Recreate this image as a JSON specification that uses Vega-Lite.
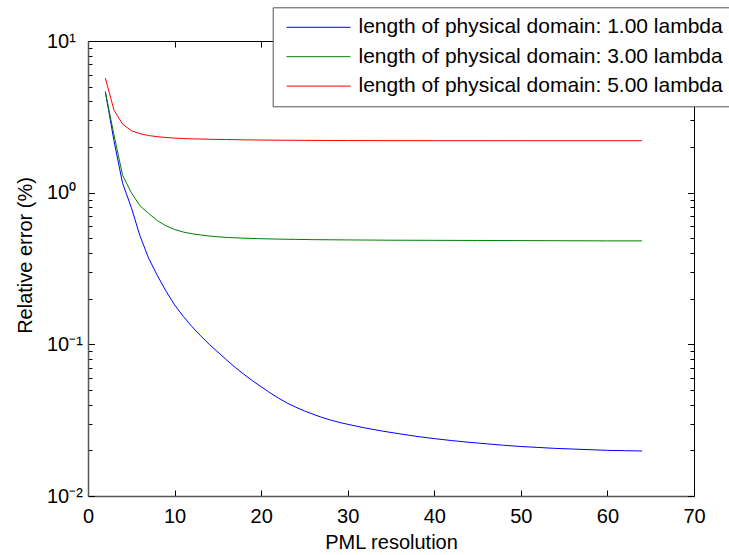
{
  "$schema": "https://vega.github.io/schema/vega-lite/v6.json",
  "width": 606,
  "height": 455,
  "autosize": {"type": "none"},
  "padding": {"left": 88, "top": 41, "right": 35, "bottom": 59},
  "background": "white",
  "config": {
    "view": {"stroke": null},
    "font": "Liberation Sans",
    "axis": {"grid": false, "labelFont": "Liberation Sans", "titleFont": "Liberation Sans", "labelColor": "black", "titleColor": "black", "titleFontWeight": "normal", "tickColor": "black", "tickWidth": 1}
  },
  "data": {
    "values": [
      {"x": 2, "err": 4.63, "series": "length of physical domain: 1.00 lambda"},
      {"x": 3, "err": 2.2, "series": "length of physical domain: 1.00 lambda"},
      {"x": 4, "err": 1.15, "series": "length of physical domain: 1.00 lambda"},
      {"x": 5, "err": 0.8, "series": "length of physical domain: 1.00 lambda"},
      {"x": 6, "err": 0.52, "series": "length of physical domain: 1.00 lambda"},
      {"x": 7, "err": 0.37, "series": "length of physical domain: 1.00 lambda"},
      {"x": 8, "err": 0.285, "series": "length of physical domain: 1.00 lambda"},
      {"x": 9, "err": 0.225, "series": "length of physical domain: 1.00 lambda"},
      {"x": 10, "err": 0.182, "series": "length of physical domain: 1.00 lambda"},
      {"x": 11, "err": 0.153, "series": "length of physical domain: 1.00 lambda"},
      {"x": 12, "err": 0.131, "series": "length of physical domain: 1.00 lambda"},
      {"x": 13, "err": 0.114, "series": "length of physical domain: 1.00 lambda"},
      {"x": 14, "err": 0.1, "series": "length of physical domain: 1.00 lambda"},
      {"x": 15, "err": 0.089, "series": "length of physical domain: 1.00 lambda"},
      {"x": 16, "err": 0.079, "series": "length of physical domain: 1.00 lambda"},
      {"x": 17, "err": 0.0705, "series": "length of physical domain: 1.00 lambda"},
      {"x": 18, "err": 0.0635, "series": "length of physical domain: 1.00 lambda"},
      {"x": 19, "err": 0.0575, "series": "length of physical domain: 1.00 lambda"},
      {"x": 20, "err": 0.0525, "series": "length of physical domain: 1.00 lambda"},
      {"x": 21, "err": 0.048, "series": "length of physical domain: 1.00 lambda"},
      {"x": 22, "err": 0.0442, "series": "length of physical domain: 1.00 lambda"},
      {"x": 23, "err": 0.041, "series": "length of physical domain: 1.00 lambda"},
      {"x": 24, "err": 0.0385, "series": "length of physical domain: 1.00 lambda"},
      {"x": 25, "err": 0.0364, "series": "length of physical domain: 1.00 lambda"},
      {"x": 26, "err": 0.0346, "series": "length of physical domain: 1.00 lambda"},
      {"x": 27, "err": 0.033, "series": "length of physical domain: 1.00 lambda"},
      {"x": 28, "err": 0.0317, "series": "length of physical domain: 1.00 lambda"},
      {"x": 29, "err": 0.0306, "series": "length of physical domain: 1.00 lambda"},
      {"x": 30, "err": 0.0297, "series": "length of physical domain: 1.00 lambda"},
      {"x": 32, "err": 0.0281, "series": "length of physical domain: 1.00 lambda"},
      {"x": 34, "err": 0.0268, "series": "length of physical domain: 1.00 lambda"},
      {"x": 36, "err": 0.0257, "series": "length of physical domain: 1.00 lambda"},
      {"x": 38, "err": 0.0247, "series": "length of physical domain: 1.00 lambda"},
      {"x": 40, "err": 0.0239, "series": "length of physical domain: 1.00 lambda"},
      {"x": 42, "err": 0.0232, "series": "length of physical domain: 1.00 lambda"},
      {"x": 44, "err": 0.0226, "series": "length of physical domain: 1.00 lambda"},
      {"x": 46, "err": 0.0221, "series": "length of physical domain: 1.00 lambda"},
      {"x": 48, "err": 0.0216, "series": "length of physical domain: 1.00 lambda"},
      {"x": 50, "err": 0.0212, "series": "length of physical domain: 1.00 lambda"},
      {"x": 52, "err": 0.0209, "series": "length of physical domain: 1.00 lambda"},
      {"x": 54, "err": 0.0206, "series": "length of physical domain: 1.00 lambda"},
      {"x": 56, "err": 0.0204, "series": "length of physical domain: 1.00 lambda"},
      {"x": 58, "err": 0.0202, "series": "length of physical domain: 1.00 lambda"},
      {"x": 60, "err": 0.02, "series": "length of physical domain: 1.00 lambda"},
      {"x": 62, "err": 0.0199, "series": "length of physical domain: 1.00 lambda"},
      {"x": 64, "err": 0.0198, "series": "length of physical domain: 1.00 lambda"},
      {"x": 2, "err": 4.63, "series": "length of physical domain: 3.00 lambda"},
      {"x": 3, "err": 2.4, "series": "length of physical domain: 3.00 lambda"},
      {"x": 4, "err": 1.3, "series": "length of physical domain: 3.00 lambda"},
      {"x": 5, "err": 1.0, "series": "length of physical domain: 3.00 lambda"},
      {"x": 6, "err": 0.82, "series": "length of physical domain: 3.00 lambda"},
      {"x": 7, "err": 0.73, "series": "length of physical domain: 3.00 lambda"},
      {"x": 8, "err": 0.655, "series": "length of physical domain: 3.00 lambda"},
      {"x": 9, "err": 0.605, "series": "length of physical domain: 3.00 lambda"},
      {"x": 10, "err": 0.572, "series": "length of physical domain: 3.00 lambda"},
      {"x": 11, "err": 0.55, "series": "length of physical domain: 3.00 lambda"},
      {"x": 12, "err": 0.536, "series": "length of physical domain: 3.00 lambda"},
      {"x": 13, "err": 0.526, "series": "length of physical domain: 3.00 lambda"},
      {"x": 14, "err": 0.518, "series": "length of physical domain: 3.00 lambda"},
      {"x": 15, "err": 0.512, "series": "length of physical domain: 3.00 lambda"},
      {"x": 16, "err": 0.507, "series": "length of physical domain: 3.00 lambda"},
      {"x": 18, "err": 0.501, "series": "length of physical domain: 3.00 lambda"},
      {"x": 20, "err": 0.497, "series": "length of physical domain: 3.00 lambda"},
      {"x": 22, "err": 0.494, "series": "length of physical domain: 3.00 lambda"},
      {"x": 24, "err": 0.492, "series": "length of physical domain: 3.00 lambda"},
      {"x": 26, "err": 0.49, "series": "length of physical domain: 3.00 lambda"},
      {"x": 28, "err": 0.489, "series": "length of physical domain: 3.00 lambda"},
      {"x": 30, "err": 0.488, "series": "length of physical domain: 3.00 lambda"},
      {"x": 35, "err": 0.486, "series": "length of physical domain: 3.00 lambda"},
      {"x": 40, "err": 0.485, "series": "length of physical domain: 3.00 lambda"},
      {"x": 45, "err": 0.484, "series": "length of physical domain: 3.00 lambda"},
      {"x": 50, "err": 0.483, "series": "length of physical domain: 3.00 lambda"},
      {"x": 55, "err": 0.482, "series": "length of physical domain: 3.00 lambda"},
      {"x": 60, "err": 0.481, "series": "length of physical domain: 3.00 lambda"},
      {"x": 64, "err": 0.481, "series": "length of physical domain: 3.00 lambda"},
      {"x": 2, "err": 5.7, "series": "length of physical domain: 5.00 lambda"},
      {"x": 3, "err": 3.5, "series": "length of physical domain: 5.00 lambda"},
      {"x": 4, "err": 2.83, "series": "length of physical domain: 5.00 lambda"},
      {"x": 5, "err": 2.56, "series": "length of physical domain: 5.00 lambda"},
      {"x": 6, "err": 2.45, "series": "length of physical domain: 5.00 lambda"},
      {"x": 7, "err": 2.38, "series": "length of physical domain: 5.00 lambda"},
      {"x": 8, "err": 2.34, "series": "length of physical domain: 5.00 lambda"},
      {"x": 9, "err": 2.31, "series": "length of physical domain: 5.00 lambda"},
      {"x": 10, "err": 2.29, "series": "length of physical domain: 5.00 lambda"},
      {"x": 11, "err": 2.275, "series": "length of physical domain: 5.00 lambda"},
      {"x": 12, "err": 2.265, "series": "length of physical domain: 5.00 lambda"},
      {"x": 14, "err": 2.25, "series": "length of physical domain: 5.00 lambda"},
      {"x": 16, "err": 2.24, "series": "length of physical domain: 5.00 lambda"},
      {"x": 18, "err": 2.23, "series": "length of physical domain: 5.00 lambda"},
      {"x": 20, "err": 2.222, "series": "length of physical domain: 5.00 lambda"},
      {"x": 25, "err": 2.212, "series": "length of physical domain: 5.00 lambda"},
      {"x": 30, "err": 2.206, "series": "length of physical domain: 5.00 lambda"},
      {"x": 35, "err": 2.203, "series": "length of physical domain: 5.00 lambda"},
      {"x": 40, "err": 2.201, "series": "length of physical domain: 5.00 lambda"},
      {"x": 50, "err": 2.2, "series": "length of physical domain: 5.00 lambda"},
      {"x": 64, "err": 2.2, "series": "length of physical domain: 5.00 lambda"}
    ]
  },
  "layer": [
    {
      "mark": {"type": "line", "strokeWidth": 1},
      "encoding": {
        "x": {
          "field": "x", "type": "quantitative",
          "scale": {"domain": [0, 70], "nice": false, "zero": false},
          "axis": {
            "orient": "bottom",
            "values": [0, 10, 20, 30, 40, 50, 60, 70],
            "title": "PML resolution",
            "titleFontSize": 20,
            "titleX": 303,
            "titleY": 46,
            "titleBaseline": "middle",
            "labelFontSize": 20,
            "labelAngle": 0,
            "labelFlush": false,
            "labelOverlap": false,
            "tickSize": -6,
            "labelPadding": 16,
            "domainColor": "#555555",
            "domainWidth": 1.5
          }
        },
        "y": {
          "field": "err", "type": "quantitative",
          "scale": {"type": "log", "domain": [0.01, 10], "nice": false},
          "axis": {
            "orient": "left",
            "values": [0.01, 0.02, 0.03, 0.04, 0.05, 0.06, 0.07, 0.08, 0.09, 0.1, 0.2, 0.3, 0.4, 0.5, 0.6, 0.7, 0.8, 0.9, 1, 2, 3, 4, 5, 6, 7, 8, 9, 10],
            "labelExpr": "datum.value==10?'10¹':datum.value==1?'10⁰':abs(datum.value-0.1)<1e-6?'10⁻¹':abs(datum.value-0.01)<1e-6?'10⁻²':''",
            "labelAlign": "left",
            "labelBaseline": "middle",
            "labelFontSize": 20,
            "labelPadding": 48,
            "labelOverlap": false,
            "labelFlush": false,
            "tickSize": {"condition": {"test": "datum.value==10||datum.value==1||abs(datum.value-0.1)<1e-6||abs(datum.value-0.01)<1e-6", "value": -6.5}, "value": -4},
            "title": "Relative error (%)",
            "titleFontSize": 20,
            "titleX": -63,
            "titleY": 214,
            "titleBaseline": "middle",
            "domainColor": "#555555",
            "domainWidth": 1.5
          }
        },
        "color": {
          "field": "series", "type": "nominal",
          "scale": {
            "domain": ["length of physical domain: 1.00 lambda", "length of physical domain: 3.00 lambda", "length of physical domain: 5.00 lambda"],
            "range": ["#0000ff", "#008000", "#ff0000"]
          },
          "legend": {
            "title": null,
            "orient": "none",
            "legendX": 184.7,
            "legendY": -33.7,
            "fillColor": "white",
            "strokeColor": "#555555",
            "padding": 9.5,
            "symbolType": "M-3.2,0H3.2",
            "symbolSize": 400,
            "symbolStrokeWidth": 1,
            "symbolOffset": 25.8,
            "labelOffset": 29.5,
            "labelFontSize": 21,
            "labelFont": "Liberation Sans",
            "labelColor": "black",
            "labelLimit": 600,
            "rowPadding": 7.4
          }
        }
      }
    },
    {
      "mark": {"type": "line", "strokeOpacity": 0},
      "encoding": {
        "x": {
          "field": "x", "type": "quantitative",
          "axis": {
            "orient": "top",
            "values": [0, 10, 20, 30, 40, 50, 60, 70],
            "labels": false,
            "title": null,
            "tickSize": -6,
            "domainColor": "black",
            "domainWidth": 1
          }
        },
        "y": {
          "field": "err", "type": "quantitative",
          "axis": {
            "orient": "right",
            "values": [0.01, 0.02, 0.03, 0.04, 0.05, 0.06, 0.07, 0.08, 0.09, 0.1, 0.2, 0.3, 0.4, 0.5, 0.6, 0.7, 0.8, 0.9, 1, 2, 3, 4, 5, 6, 7, 8, 9, 10],
            "labels": false,
            "title": null,
            "tickSize": {"condition": {"test": "datum.value==10||datum.value==1||abs(datum.value-0.1)<1e-6||abs(datum.value-0.01)<1e-6", "value": -6.5}, "value": -4},
            "domainColor": "black",
            "domainWidth": 1
          }
        },
        "detail": {"field": "series", "type": "nominal"}
      }
    }
  ],
  "resolve": {"axis": {"x": "independent", "y": "independent"}}
}
